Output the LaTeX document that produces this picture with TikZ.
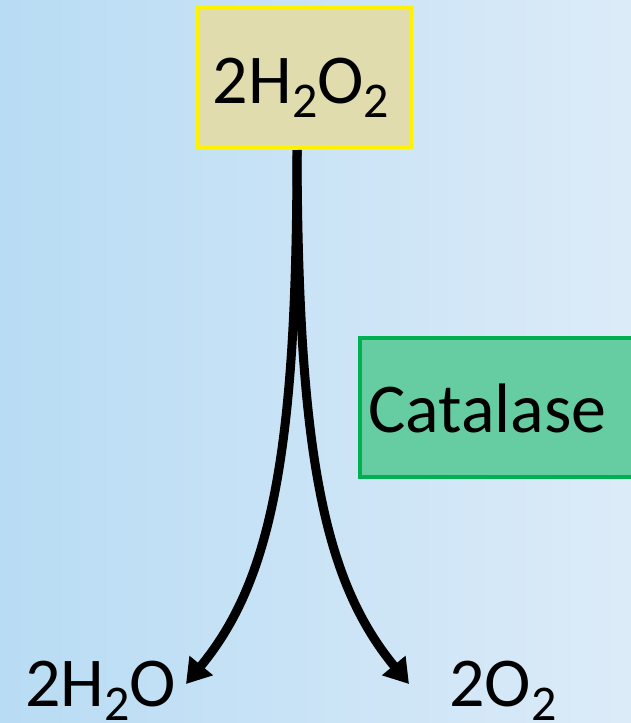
\documentclass[tikz,border=0pt]{standalone}
\usepackage{fontspec}
\setmainfont{Carlito}
\usetikzlibrary{arrows.meta,positioning}

\definecolor{fondoizq}{HTML}{B8DCF4}
\definecolor{fondoder}{HTML}{DCEBF8}
\definecolor{cajaamarilla}{HTML}{E0DCAE}
\definecolor{bordeverde}{HTML}{00B050}
\definecolor{cajaverde}{HTML}{66CDA2}

% Subindices grandes, como en la diapositiva
\newcommand{\subidx}[1]{\raisebox{-14pt}{\fontsize{50}{56}\selectfont #1}}

\tikzset{
  formula/.style={font=\fontsize{70}{80}\selectfont, inner sep=0pt},
  flecha/.style={line width=9pt, -{Triangle[length=24pt,width=29pt]}}
}

\begin{document}
\begin{tikzpicture}[x=1pt,y=-1pt]
% Fondo con degradado
\fill[left color=fondoizq, right color=fondoder] (0,0) rectangle (631,723);
\useasboundingbox (0,0) rectangle (631,723);

% Cajas
\draw[draw=yellow, line width=4.5pt, fill=cajaamarilla] (197,8) rectangle (411,147);
\node[formula, anchor=base] (h2o2) at (301,103) {2H\subidx{2}O\subidx{2}};
\coordinate (salida) at (297,150);

\draw[draw=bordeverde, line width=4pt, fill=cajaverde] (360,338) rectangle (650,477);
\node[formula, anchor=west] (catalase) at (368,408) {Catalase};

% Productos
\node[formula, anchor=base west] (water) at (25,706) {2H\subidx{2}O};
\node[formula, anchor=base west] (oxygen) at (449,706) {2O\subidx{2}};
\coordinate (puntaizq) at (186,684);
\coordinate (puntader) at (409,684);

% Flechas
\draw[flecha] (salida) .. controls (297,450) and (272,580) .. (puntaizq);
\draw[flecha] (salida) .. controls (298,450) and (323,580) .. (puntader);
\end{tikzpicture}
\end{document}
